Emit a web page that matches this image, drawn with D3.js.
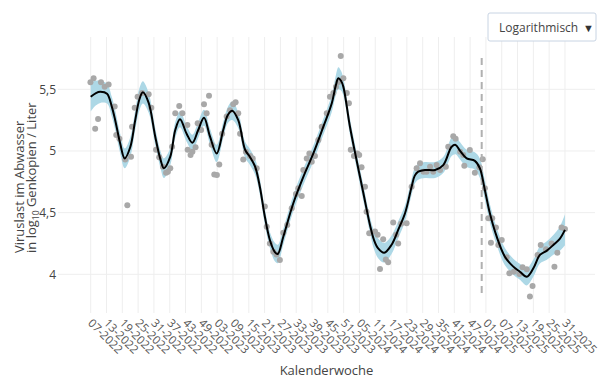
<!DOCTYPE html>
<html><head><meta charset="utf-8">
<script src="https://cdn.jsdelivr.net/npm/d3@7/dist/d3.min.js"></script>
<style>
body{margin:0;background:#fff;}
svg{display:block;font-family:"Open Sans",sans-serif;}
</style></head>
<body><svg id="chart" width="604" height="382"></svg>
<script>
// Week offsets are counted in weeks since KW 07-2022
const tickLabels = ["07-2022","13-2022","19-2022","25-2022","31-2022","37-2022","43-2022","49-2022",
 "03-2023","09-2023","15-2023","21-2023","27-2023","33-2023","39-2023","45-2023","51-2023",
 "05-2024","11-2024","17-2024","23-2024","29-2024","35-2024","41-2024","47-2024",
 "01-2025","07-2025","13-2025","19-2025","25-2025","31-2025"];
const yTicks = [4, 4.5, 5, 5.5];

const pointWeeks = [-0.1,1.1,1.7,2.8,3.9,5.3,6.8,9.1,9.7,10.9,13.1,13.9,15.3,15.7,16.7,17.8,19.5,22,23,24.8,26,27.4,28.6,29.3,30.2,30.9,32.1,33.6,34.8,
 36.7,36.8,37.9,38.6,39.8,40.6,41.9,43,44,44.9,45.9,46.9,47.9,48.8,49.9,51.6,52.9,54.1,55,56,56.7,57.9,58.9,60.5,61.5,63,66.1,66.8,68,69.3,70.5,71.8,
 73.1,74.6,76.3,77.9,78.8,80.1,80.7,82,83,83.9,85.1,86.4,87.7,89.6,90.8,92.1,93.1,94,94.9,95.9,97.2,98,98.7,99.9,101.2,101.9,102.8,104.1,104.7,105.7,
 107.9,108.9,109.8,111,112,112.9,114.8,115.9,116.7,117.8,119.9,121.8,123.7,125,126.3,127.5,128.8,130,131.3,132.6,134.8,135.7,137.6,138.5,140.2,141.4,141.8,
 143.9,145.8,147.5,148.8,149.6,150.9,151.9,152.4,153.8,154.7,156,157.9,158.9,160.6,162.7,163.9,165.5,166.7,167.7,169.6,170.8,172.8,174.9,176,177.1,178.7,180];
const pointValues = [5.557,5.59,5.18,5.26,5.557,5.52,5.54,5.36,5.13,5.10,4.93,4.56,4.954,5.197,5.35,5.44,5.47,5.46,5.35,5.01,4.95,4.873,4.824,4.832,4.86,5.035,5.306,5.365,5.306,
 5.21,5.01,4.967,4.994,5.03,5.225,5.17,5.38,5.306,5.449,5.05,4.81,4.805,4.89,5.14,5.28,5.33,5.38,5.395,5.306,5.14,4.93,4.994,4.96,4.94,4.86,4.55,4.386,4.25,4.183,4.16,4.116,
 4.337,4.40,4.535,4.651,4.697,4.635,4.846,4.94,4.98,4.913,4.96,5.09,5.197,5.306,5.44,5.47,5.52,5.56,5.77,5.59,5.47,5.387,5.01,4.96,4.98,4.967,4.868,4.71,4.508,4.333,
 4.346,4.32,4.043,4.284,4.12,4.097,4.42,4.32,4.25,4.41,4.413,4.71,4.86,4.90,4.832,4.832,4.873,4.832,4.886,4.846,4.873,5.035,5.12,5.10,4.994,4.967,4.88,
 5.008,4.824,4.868,4.933,4.697,4.454,4.256,4.454,4.38,4.238,4.278,4.138,4.008,4.021,4.002,4.057,4.04,3.82,3.905,4.157,4.238,4.203,4.25,4.062,4.175,4.38,4.367];

const trendWeeks = [0,2,3.6,6.2,8,9.3,11.2,12.9,15,16.9,18.5,19.8,22,24.5,26.5,27.8,30.2,32.1,33.9,36.4,38.6,40.8,43,45.3,47.8,50.3,52,53.7,56,58.6,60.5,62.4,64.2,66.1,68,69.9,71,
 73.1,76.9,80.7,84.5,88.3,91.5,93,94,95,95.9,98.4,100.9,103.5,106,107.5,109.1,111.4,114.2,116.7,119.3,121.8,123,124.3,126.9,130.7,133.8,137,138.5,140.2,142.7,145.8,147.7,
 149.6,151.5,154.1,157.2,160.4,162.9,165.5,168,170.5,173,175.6,178.1,180];
const trendValues = [5.44,5.47,5.48,5.465,5.36,5.25,5.06,4.94,5.03,5.25,5.42,5.476,5.39,5.116,4.93,4.86,4.954,5.17,5.257,5.14,5.067,5.17,5.27,5.116,4.98,5.17,5.29,5.327,5.25,5.01,4.95,4.873,4.71,4.467,4.278,4.18,4.165,
 4.305,4.576,4.79,4.98,5.197,5.387,5.53,5.59,5.57,5.52,5.197,4.927,4.657,4.40,4.28,4.21,4.175,4.24,4.36,4.495,4.71,4.80,4.832,4.846,4.846,4.886,5.035,5.049,5.00,4.94,4.92,4.86,
 4.684,4.495,4.305,4.143,4.062,4.021,3.98,4.049,4.157,4.19,4.238,4.29,4.36];
const bandHalfWidth = [0.12,0.10,0.09,0.08,0.08,0.08,0.08,0.08,0.08,0.08,0.09,0.09,0.08,0.07,0.07,0.08,0.07,0.065,0.065,0.065,0.065,0.065,0.065,0.065,0.07,0.065,0.065,0.075,0.065,0.065,0.065,0.065,0.065,0.065,0.065,0.075,0.075,
 0.065,0.065,0.065,0.065,0.065,0.07,0.08,0.09,0.08,0.07,0.065,0.065,0.065,0.065,0.075,0.08,0.08,0.075,0.07,0.065,0.065,0.065,0.065,0.065,0.065,0.065,0.075,0.075,0.07,0.07,0.07,0.08,
 0.08,0.075,0.07,0.07,0.065,0.065,0.07,0.07,0.07,0.075,0.08,0.10,0.125];
const cutoffWeek = 148.4;

const svg = d3.select("#chart");
const L = 58, R = 595, T = 37, B = 313;
const x = d3.scaleLinear().domain([-12.41, 191.4]).range([L, R]);
const y = d3.scaleLinear().domain([3.686, 5.9245]).range([B, T]);
const tickWeeks = tickLabels.map((_, i) => i * 6);

// grid
const grid = svg.append("g");
grid.selectAll(".vg").data(tickWeeks).enter().append("line")
  .attr("x1", d => x(d)).attr("x2", d => x(d)).attr("y1", T).attr("y2", B)
  .attr("stroke", "#eee").attr("stroke-width", 1);
grid.selectAll(".hg").data(yTicks).enter().append("line")
  .attr("x1", L).attr("x2", R).attr("y1", d => y(d)).attr("y2", d => y(d))
  .attr("stroke", "#eee").attr("stroke-width", 1);

// band
const trend = trendWeeks.map((w, i) => ({w, v: trendValues[i], h: bandHalfWidth[i]}));
svg.append("path").datum(trend)
  .attr("d", d3.area().x(d => x(d.w)).y0(d => y(d.v - d.h)).y1(d => y(d.v + d.h)).curve(d3.curveCatmullRom))
  .attr("fill", "#add8e6").attr("stroke", "none");

// points
svg.append("g").selectAll("circle").data(pointWeeks.map((w, i) => ({w, v: pointValues[i]})))
  .enter().append("circle")
  .attr("cx", d => x(d.w)).attr("cy", d => y(d.v)).attr("r", 3)
  .attr("fill", "#a8a8a8");

// dashed cutoff
svg.append("line").attr("x1", x(cutoffWeek)).attr("x2", x(cutoffWeek))
  .attr("y1", 58).attr("y2", 298)
  .attr("stroke", "#b0b0b0").attr("stroke-width", 2).attr("stroke-dasharray", "7,5");

// trend line
svg.append("path").datum(trend)
  .attr("d", d3.line().x(d => x(d.w)).y(d => y(d.v)).curve(d3.curveCatmullRom))
  .attr("fill", "none").attr("stroke", "#000").attr("stroke-width", 2);

// x axis labels
const xa = svg.append("g").attr("transform", `translate(0,${B})`)
  .call(d3.axisBottom(x).tickValues(tickWeeks).tickFormat((d, i) => tickLabels[i]).tickSize(0));
xa.select(".domain").remove();
xa.selectAll("text").attr("font-size", 11.5).attr("fill", "#555").attr("font-family", "Open Sans")
  .attr("text-anchor", "start").attr("y", 0).attr("dy", "0.35em")
  .attr("transform", "translate(-1,8) rotate(45)");

// y axis labels
const ya = svg.append("g").attr("transform", `translate(${L},0)`)
  .call(d3.axisLeft(y).tickValues(yTicks).tickFormat(d => String(d).replace(".", ",")).tickSize(0));
ya.select(".domain").remove();
ya.selectAll("text").attr("font-size", 12).attr("fill", "#444").attr("font-family", "Open Sans").attr("x", -2);

// axis titles
svg.append("text").attr("x", (L + R) / 2).attr("y", 375).attr("text-anchor", "middle")
  .attr("font-size", 13).attr("fill", "#444").text("Kalenderwoche");
const yt = svg.append("text").attr("transform", "translate(0,253) rotate(-90)")
  .attr("text-anchor", "start").attr("font-size", 13).attr("fill", "#444");
yt.append("tspan").attr("x", 0).attr("y", 24).text("Viruslast im Abwasser");
const t2 = yt.append("tspan").attr("x", 0).attr("y", 36);
t2.append("tspan").text("in log");
t2.append("tspan").attr("font-size", 8.5).attr("dy", 2.5).text("10");
t2.append("tspan").attr("dy", -2.5).text(" Genkopien / Liter");

// dropdown
const dd = svg.append("g").attr("transform", "translate(488,13)");
dd.append("rect").attr("width", 108).attr("height", 28).attr("rx", 2)
  .attr("fill", "#fff").attr("stroke", "#c8d4e3").attr("stroke-width", 1);
dd.append("text").attr("x", 11).attr("y", 18.5).attr("font-size", 12).attr("fill", "#444").text("Logarithmisch");
dd.append("text").attr("x", 95).attr("y", 18.5).attr("font-size", 11).attr("fill", "#333").text("▼");
</script></body></html>
